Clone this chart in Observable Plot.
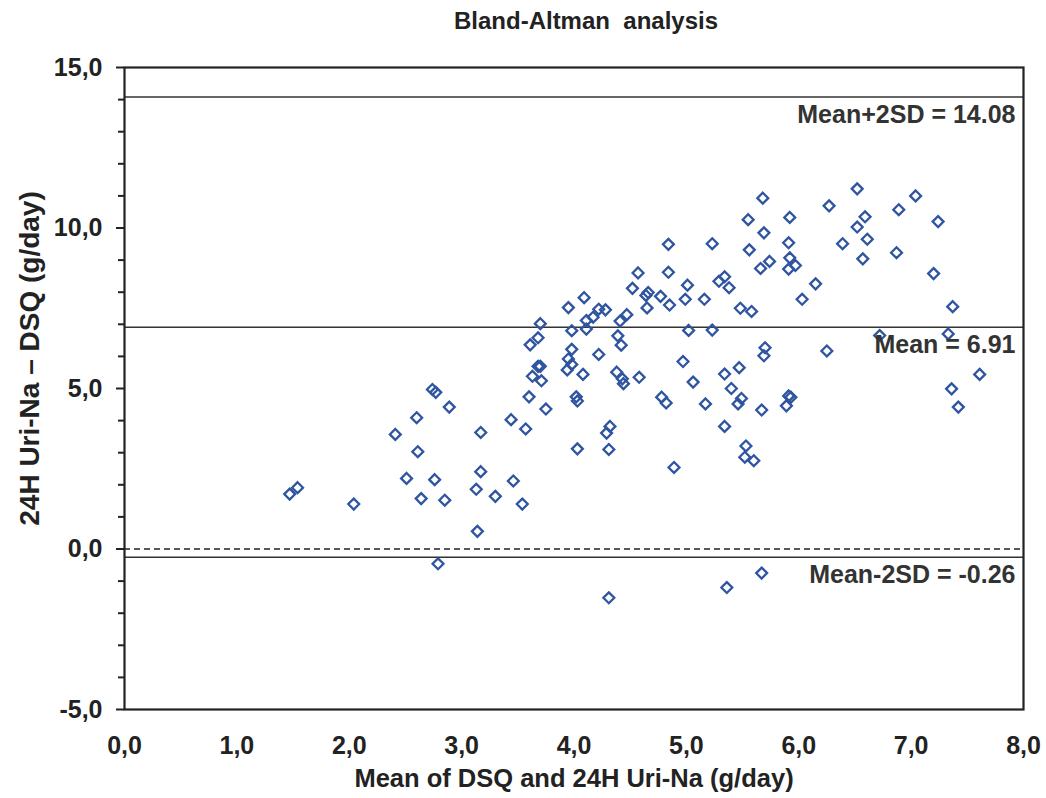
<!DOCTYPE html>
<html>
<head>
<meta charset="utf-8">
<script src="https://cdn.jsdelivr.net/npm/d3@7"></script>
<script src="https://cdn.jsdelivr.net/npm/@observablehq/plot@0.6"></script>
<style>
  html, body { margin: 0; padding: 0; background: #fff; }
  #chart svg { display: block; }
</style>
</head>
<body>
<div id="chart"></div>
<script>
// Mean of DSQ and 24H Uri-Na (g/day)
const meanVals = [
  1.47, 1.54, 2.04, 2.41, 2.51, 2.60, 2.61, 2.64, 2.74, 2.77, 2.76, 2.79, 2.85, 2.89,
  3.14, 3.13, 3.17, 3.17, 3.30, 3.44, 3.46, 3.54, 3.57, 3.60, 3.75, 3.63, 3.71,
  3.70, 3.68, 3.61, 3.68, 3.70, 3.95, 3.98, 3.98, 3.95, 3.98, 3.94, 4.02, 4.03, 4.03,
  4.09, 4.08, 4.17, 4.11, 4.11, 4.22, 4.28, 4.22, 4.32, 4.29, 4.31, 4.31,
  4.39, 4.42, 4.41, 4.47, 4.38, 4.43, 4.44, 4.52, 4.57, 4.58, 4.64, 4.66, 4.65, 4.77,
  4.78, 4.82, 4.84, 4.84, 4.85, 4.89, 4.97, 4.99, 5.01, 5.02, 5.06, 5.16, 5.17,
  5.23, 5.23, 5.29, 5.34, 5.38, 5.34, 5.40, 5.34, 5.36, 5.47, 5.49, 5.46, 5.48, 5.58,
  5.53, 5.52, 5.60, 5.55, 5.56,
  5.68, 6.52, 7.04, 6.27, 6.89, 5.92, 6.59, 6.52, 7.24, 5.69, 5.91, 6.61, 6.39, 6.87,
  5.92, 6.57, 5.74, 5.66, 5.91, 5.97, 7.20, 6.15, 6.03, 7.37, 6.72, 7.33, 5.70, 5.69,
  6.25, 7.61, 7.36, 5.67, 5.89, 5.91, 5.93, 7.42, 5.67
];
// 24H Uri-Na – DSQ (g/day)
const diffVals = [
  1.71, 1.91, 1.40, 3.57, 2.20, 4.09, 3.03, 1.57, 4.97, 4.88, 2.16, -0.46, 1.52, 4.42,
  0.55, 1.86, 3.63, 2.41, 1.64, 4.03, 2.12, 1.40, 3.74, 4.74, 4.36, 5.38, 5.24,
  7.02, 6.58, 6.36, 5.69, 5.69, 7.52, 6.80, 6.22, 5.92, 5.75, 5.58, 4.74, 4.61, 3.12,
  7.83, 5.44, 7.22, 7.12, 6.85, 7.47, 7.45, 6.06, 3.82, 3.61, 3.10, -1.52,
  6.64, 6.35, 7.10, 7.30, 5.51, 5.30, 5.15, 8.12, 8.60, 5.35, 7.90, 7.99, 7.51, 7.87,
  4.73, 4.55, 9.49, 8.62, 7.60, 2.54, 5.84, 7.78, 8.22, 6.81, 5.20, 7.78, 4.52,
  9.51, 6.82, 8.34, 8.48, 8.14, 5.45, 5.00, 3.82, -1.20, 5.65, 4.69, 4.52, 7.50, 7.40,
  3.21, 2.86, 2.75, 10.26, 9.32,
  10.93, 11.22, 11.00, 10.69, 10.57, 10.33, 10.35, 10.03, 10.20, 9.85, 9.54, 9.65, 9.51, 9.23,
  9.07, 9.04, 8.96, 8.74, 8.72, 8.83, 8.58, 8.26, 7.78, 7.55, 6.65, 6.70, 6.27, 6.02,
  6.17, 5.44, 4.99, 4.33, 4.46, 4.77, 4.73, 4.42, -0.75
];
const limitValues = [14.08, 6.91, -0.26];
const limitLabels = ["Mean+2SD = 14.08", "Mean = 6.91", "Mean-2SD = -0.26"];
const zeroLine = [0];
const xTicks = [0, 1, 2, 3, 4, 5, 6, 7, 8];
const yMajorTicks = [-5, 0, 5, 10, 15];
const yMinorTicks = [-4, -3, -2, -1, 1, 2, 3, 4, 6, 7, 8, 9, 11, 12, 13, 14];
const titleText = "Bland-Altman  analysis";
const xLabel = "Mean of DSQ and 24H Uri-Na (g/day)";
const yLabel = "24H Uri-Na \u2013 DSQ (g/day)";

const points = meanVals.map((m, i) => ({mean: m, diff: diffVals[i]}));
const limits = limitValues.map((v, i) => ({value: v, label: limitLabels[i]}));
const fmt = d => d.toFixed(1).replace(".", ",");
const font = "'Liberation Sans', Arial, Helvetica, sans-serif";

const chart = Plot.plot({
  width: 1046,
  height: 798,
  marginLeft: 124,
  marginRight: 23,
  marginTop: 67,
  marginBottom: 89,
  style: {fontFamily: font, fontWeight: "bold", background: "#fff", color: "#222"},
  x: {domain: [0, 8]},
  y: {domain: [-5, 15]},
  marks: [
    Plot.ruleY(zeroLine, {stroke: "#222", strokeWidth: 1.3, strokeDasharray: "6,4"}),
    Plot.ruleY(limits, {y: "value", stroke: "#333", strokeWidth: 1.5}),
    Plot.dot(points, {x: "mean", y: "diff", symbol: "diamond2", r: 4.9, stroke: "#2f55a0", strokeWidth: 2.3, fill: "none"}),
    Plot.frame({stroke: "#222", strokeWidth: 2.2}),
    Plot.axisY(yMajorTicks, {tickSize: 8, tickPadding: 14, fontSize: 25, tickFormat: fmt, label: null, stroke: "#222", strokeWidth: 2, fill: "#222"}),
    Plot.axisY(yMinorTicks, {tickSize: 6, tickFormat: () => "", label: null, stroke: "#222", strokeWidth: 2}),
    Plot.axisX(xTicks, {tickSize: 0, tickPadding: 27, fontSize: 25, tickFormat: fmt, label: null, fill: "#222"}),
    Plot.text(limits, {y: "value", text: "label", frameAnchor: "right", textAnchor: "end", lineAnchor: "middle", dx: -8, dy: 18, fontSize: 25, fill: "#333", fontWeight: "bold"}),
    Plot.text([titleText], {frameAnchor: "top", textAnchor: "middle", lineAnchor: "middle", dy: -46, dx: 12, fontSize: 24, fill: "#222", fontWeight: "bold"}),
    Plot.text([xLabel], {frameAnchor: "bottom", textAnchor: "middle", lineAnchor: "middle", dy: 69, fontSize: 25.5, fill: "#222", fontWeight: "bold"}),
    Plot.text([yLabel], {frameAnchor: "left", textAnchor: "middle", lineAnchor: "middle", rotate: -90, dx: -94, dy: -30, fontSize: 28, fill: "#222", fontWeight: "bold"})
  ]
});
document.getElementById("chart").appendChild(chart);
</script>
</body>
</html>
